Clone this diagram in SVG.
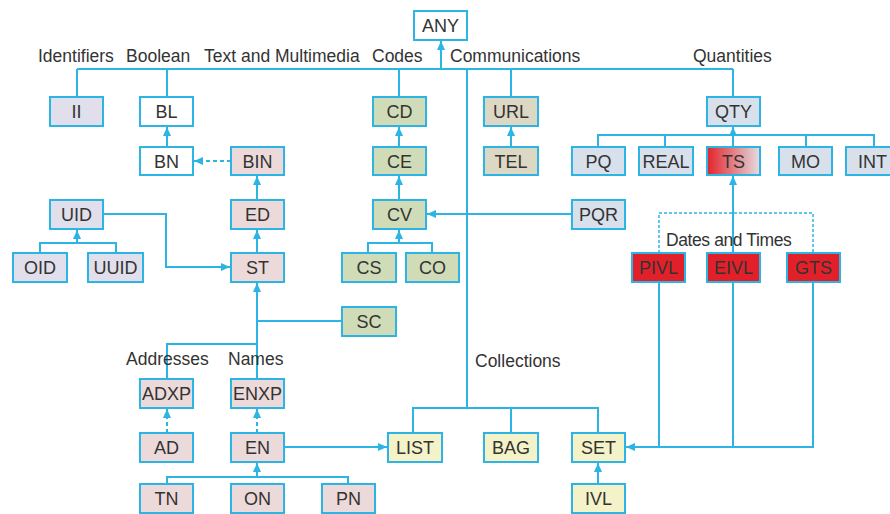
<svg xmlns="http://www.w3.org/2000/svg" width="890" height="514" viewBox="0 0 890 514">
<defs>
<style>
.b{stroke:#2cb4e4;stroke-width:2}
.t{font-family:"Liberation Sans",Arial,sans-serif;font-size:18px;fill:#333;text-anchor:middle}
.l{font-family:"Liberation Sans",Arial,sans-serif;font-size:17.5px;fill:#333}
.c{fill:none;stroke:#2cb4e4;stroke-width:2}
.d{stroke-dasharray:4 3}
.dd{stroke-dasharray:3 2;stroke-width:1.5}
.w{fill:#ffffff}.lav{fill:#e1dfeb}.pk{fill:#ecdada}.gr{fill:#d0dcb8}.be{fill:#ddd8c4}.bl{fill:#d8e0eb}.rd{fill:#e1202a}.ye{fill:#f3f2c8}
</style>
<linearGradient id="tsg" x1="0" y1="0" x2="1" y2="0">
<stop offset="0" stop-color="#e3232a"/>
<stop offset="1" stop-color="#e3dde0"/>
</linearGradient>
<marker id="a" markerUnits="userSpaceOnUse" markerWidth="9" markerHeight="8" refX="9" refY="4" orient="auto">
<path d="M0,0 L9,4 L0,8 z" fill="#2cb4e4"/>
</marker>
</defs>
<g id="connectors" class="c">
<path d="M77,69 H733 M77,69 V97 M167,69 V97 M399,69 V97 M511,69 V97 M733,69 V97 M467,69 V408"/>
<path d="M441,69 V41" marker-end="url(#a)"/>
<path d="M167,147 V127" marker-end="url(#a)"/>
<path class="d" d="M231,161 H194" marker-end="url(#a)"/>
<path d="M399,147 V127" marker-end="url(#a)"/>
<path d="M511,147 V127" marker-end="url(#a)"/>
<path d="M598,147 V135 H874 V147 M665,135 V147 M806,135 V147"/>
<path d="M733,147 V127" marker-end="url(#a)"/>
<path d="M257,200 V176" marker-end="url(#a)"/>
<path d="M399,200 V176" marker-end="url(#a)"/>
<path d="M257,253 V230" marker-end="url(#a)"/>
<path d="M40,253 V243 H116 V253"/>
<path d="M77,243 V230" marker-end="url(#a)"/>
<path d="M368,253 V243 H432 V253"/>
<path d="M399,243 V230" marker-end="url(#a)"/>
<path d="M103,214 H166 V267 H230" marker-end="url(#a)"/>
<path d="M572,214 H427" marker-end="url(#a)"/>
<path d="M342,321 H257"/>
<path d="M257,344 V283" marker-end="url(#a)"/>
<path d="M167,379 V344 H257 V379"/>
<path class="d" d="M167,433 V409" marker-end="url(#a)"/>
<path class="d" d="M257,433 V409" marker-end="url(#a)"/>
<path d="M284,447 H387" marker-end="url(#a)"/>
<path d="M413,433 V408 H598 V433 M511,408 V433"/>
<path d="M167,484 V477 H348 V484"/>
<path d="M257,477 V463" marker-end="url(#a)"/>
<path d="M598,484 V463" marker-end="url(#a)"/>
<path class="dd" d="M659,253 V213 H813 V253"/>
<path d="M733,253 V176" marker-end="url(#a)"/>
<path d="M659,282 V447 M733,282 V447 M813,282 V447 H626" marker-end="url(#a)"/>
</g>
<g id="labels" class="l">
<text x="38" y="62">Identifiers</text>
<text x="126" y="62">Boolean</text>
<text x="204" y="62">Text and Multimedia</text>
<text x="372" y="62">Codes</text>
<text x="450" y="62">Communications</text>
<text x="693" y="62">Quantities</text>
<text x="666" y="246" letter-spacing="-0.4">Dates and Times</text>
<text x="126" y="365">Addresses</text>
<text x="228" y="365">Names</text>
<text x="475" y="367">Collections</text>
</g>
<g id="ANY"><rect class="b w" x="414" y="11" width="53" height="29"/><text class="t" x="440.5" y="32">ANY</text></g>
<g id="II"><rect class="b lav" x="50" y="97" width="53" height="29"/><text class="t" x="76.5" y="118">II</text></g>
<g id="BL"><rect class="b w" x="140" y="97" width="53" height="29"/><text class="t" x="166.5" y="118">BL</text></g>
<g id="CD"><rect class="b gr" x="373" y="97" width="53" height="29"/><text class="t" x="399.5" y="118">CD</text></g>
<g id="URL"><rect class="b be" x="484" y="97" width="54" height="29"/><text class="t" x="511" y="118">URL</text></g>
<g id="QTY"><rect class="b bl" x="707" y="97" width="53" height="29"/><text class="t" x="733.5" y="118">QTY</text></g>
<g id="BN"><rect class="b w" x="140" y="147" width="53" height="28"/><text class="t" x="166.5" y="168">BN</text></g>
<g id="BIN"><rect class="b pk" x="231" y="147" width="53" height="28"/><text class="t" x="257.5" y="168">BIN</text></g>
<g id="CE"><rect class="b gr" x="373" y="147" width="53" height="28"/><text class="t" x="399.5" y="168">CE</text></g>
<g id="TEL"><rect class="b be" x="484" y="147" width="54" height="28"/><text class="t" x="511" y="168">TEL</text></g>
<g id="PQ"><rect class="b bl" x="572" y="147" width="53" height="28"/><text class="t" x="598.5" y="168">PQ</text></g>
<g id="REAL"><rect class="b bl" x="639" y="147" width="54" height="28"/><text class="t" x="666" y="168">REAL</text></g>
<g id="TS"><rect class="b" fill="url(#tsg)" x="707" y="147" width="53" height="28"/><text class="t" x="733.5" y="168">TS</text></g>
<g id="MO"><rect class="b bl" x="779" y="147" width="53" height="28"/><text class="t" x="805.5" y="168">MO</text></g>
<g id="INT"><rect class="b bl" x="846" y="147" width="53" height="28"/><text class="t" x="872.5" y="168">INT</text></g>
<g id="UID"><rect class="b lav" x="50" y="200" width="53" height="29"/><text class="t" x="76.5" y="221">UID</text></g>
<g id="ED"><rect class="b pk" x="231" y="200" width="53" height="29"/><text class="t" x="257.5" y="221">ED</text></g>
<g id="CV"><rect class="b gr" x="373" y="200" width="53" height="29"/><text class="t" x="399.5" y="221">CV</text></g>
<g id="PQR"><rect class="b bl" x="572" y="200" width="53" height="29"/><text class="t" x="598.5" y="221">PQR</text></g>
<g id="OID"><rect class="b lav" x="13" y="253" width="54" height="29"/><text class="t" x="40" y="274">OID</text></g>
<g id="UUID"><rect class="b lav" x="88" y="253" width="55" height="29"/><text class="t" x="115.5" y="274">UUID</text></g>
<g id="ST"><rect class="b pk" x="231" y="253" width="53" height="29"/><text class="t" x="257.5" y="274">ST</text></g>
<g id="CS"><rect class="b gr" x="342" y="253" width="54" height="29"/><text class="t" x="369" y="274">CS</text></g>
<g id="CO"><rect class="b gr" x="406" y="253" width="53" height="29"/><text class="t" x="432.5" y="274">CO</text></g>
<g id="PIVL"><rect class="b rd" x="632" y="253" width="53" height="29"/><text class="t" x="658.5" y="274">PIVL</text></g>
<g id="EIVL"><rect class="b rd" x="707" y="253" width="53" height="29"/><text class="t" x="733.5" y="274">EIVL</text></g>
<g id="GTS"><rect class="b rd" x="787" y="253" width="53" height="29"/><text class="t" x="813.5" y="274">GTS</text></g>
<g id="SC"><rect class="b gr" x="342" y="307" width="54" height="29"/><text class="t" x="369" y="328">SC</text></g>
<g id="ADXP"><rect class="b pk" x="140" y="379" width="53" height="29"/><text class="t" x="166.5" y="400">ADXP</text></g>
<g id="ENXP"><rect class="b pk" x="231" y="379" width="53" height="29"/><text class="t" x="257.5" y="400">ENXP</text></g>
<g id="AD"><rect class="b pk" x="140" y="433" width="53" height="29"/><text class="t" x="166.5" y="454">AD</text></g>
<g id="EN"><rect class="b pk" x="231" y="433" width="53" height="29"/><text class="t" x="257.5" y="454">EN</text></g>
<g id="LIST"><rect class="b ye" x="388" y="433" width="54" height="29"/><text class="t" x="415" y="454">LIST</text></g>
<g id="BAG"><rect class="b ye" x="484" y="433" width="54" height="29"/><text class="t" x="511" y="454">BAG</text></g>
<g id="SET"><rect class="b ye" x="572" y="433" width="53" height="29"/><text class="t" x="598.5" y="454">SET</text></g>
<g id="TN"><rect class="b pk" x="140" y="484" width="53" height="29"/><text class="t" x="166.5" y="505">TN</text></g>
<g id="ON"><rect class="b pk" x="231" y="484" width="53" height="29"/><text class="t" x="257.5" y="505">ON</text></g>
<g id="PN"><rect class="b pk" x="322" y="484" width="53" height="29"/><text class="t" x="348.5" y="505">PN</text></g>
<g id="IVL"><rect class="b ye" x="572" y="484" width="53" height="29"/><text class="t" x="598.5" y="505">IVL</text></g>
</svg>
